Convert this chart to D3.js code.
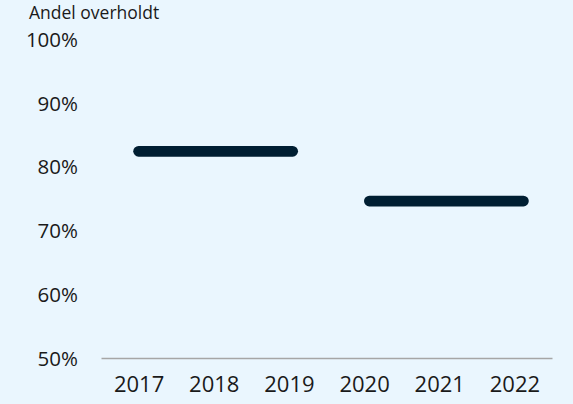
<!DOCTYPE html>
<html>
<head>
<meta charset="utf-8">
<script src="https://cdn.jsdelivr.net/npm/d3@7"></script>
<style>
  body { margin: 0; background: #eaf6fe; }
  svg { display: block; font-family: "Open Sans", sans-serif; }
</style>
</head>
<body>
<svg id="chart" width="573" height="404"></svg>
<script>
// Andel overholdt, average per period
var years = [2017, 2018, 2019, 2020, 2021, 2022];
var yTicks = [50, 60, 70, 80, 90, 100];
var periodStart = [2017, 2020.07];
var periodEnd = [2019.05, 2022.12];
var periodValue = [82.4, 74.6];

var svg = d3.select("#chart");
var width = +svg.attr("width");

// Scales
var x = d3.scaleLinear().domain([2016.5, 2022.5]).range([101, 552]);
var y = d3.scaleLinear().domain([50, 100]).range([358, 39]);

svg.append("rect")
  .attr("width", width)
  .attr("height", 404)
  .attr("fill", "#eaf6fe");

// Title
svg.append("text")
  .attr("x", 29)
  .attr("y", 19)
  .style("font-size", "17.5px")
  .attr("fill", "#1a1a1a")
  .text("Andel overholdt");

// Y axis labels
var yAxis = d3.axisLeft(y)
  .tickValues(yTicks)
  .tickSize(0)
  .tickPadding(0)
  .tickFormat(function(d) { return d + "%"; });

svg.append("g")
  .attr("transform", "translate(78,0)")
  .call(yAxis)
  .call(function(g) {
    g.select(".domain").remove();
    g.selectAll("text")
      .attr("dy", "0.36em")
      .style("font-size", "20.5px")
      .style("font-family", "'Open Sans', sans-serif")
      .attr("fill", "#1a1a1a");
  });

// X axis
var xAxis = d3.axisBottom(x)
  .tickValues(years)
  .tickSize(0)
  .tickPadding(0)
  .tickFormat(d3.format("d"));

svg.append("g")
  .attr("transform", "translate(0," + y(50) + ")")
  .call(xAxis)
  .call(function(g) {
    g.select(".domain").attr("stroke", "#a6a6a6").attr("stroke-width", 1.3);
    g.selectAll("text")
      .attr("y", 34)
      .attr("dy", 0)
      .style("font-size", "22px")
      .style("font-family", "'Open Sans', sans-serif")
      .attr("fill", "#1a1a1a");
  });

// Period lines
var periods = periodValue.map(function(v, i) {
  return { start: periodStart[i], end: periodEnd[i], value: v };
});

svg.selectAll("line.period")
  .data(periods)
  .enter()
  .append("line")
  .attr("class", "period")
  .attr("x1", function(d) { return x(d.start); })
  .attr("x2", function(d) { return x(d.end); })
  .attr("y1", function(d) { return y(d.value); })
  .attr("y2", function(d) { return y(d.value); })
  .attr("stroke", "#001e32")
  .attr("stroke-width", 10.7)
  .attr("stroke-linecap", "round");
</script>
</body>
</html>
